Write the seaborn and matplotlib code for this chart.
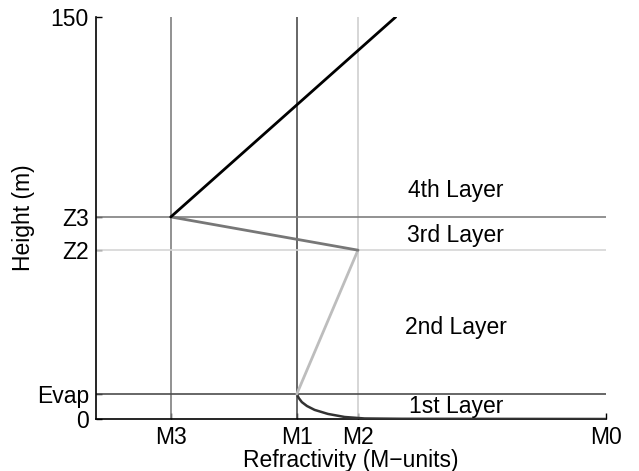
import matplotlib
matplotlib.use("Agg")
import matplotlib.pyplot as plt
import seaborn as sns
import pandas as pd

# Characteristic refractivity values (M-units, arbitrary scale) and layer heights (m)
M3, M1, M2, M0 = 14.7, 39.4, 51.4, 100.0
EVAP, Z2, Z3, ZTOP = 9.3, 63.0, 75.4, 150.0
M_TOP = 58.8

x_tick_labels = ["M3", "M1", "M2", "M0"]
y_tick_labels = ["0", "Evap", "Z2", "Z3", "150"]

# Evaporation-duct part of the profile (surface up to the duct height)
evap_m = [100.0, 60.0, 52.7, 48.8, 45.5, 42.9, 41.4, 40.4, 39.8, 39.4]
evap_z = [0.0, 0.08, 0.2, 0.75, 1.9, 3.4, 4.85, 6.3, 7.8, 9.3]

layer_names = ["1st Layer", "2nd Layer", "3rd Layer", "4th Layer"]
layer_label_z = [4.5, 34.3, 68.3, 85.4]
layer_label_m = 70.6

sns.set_style("ticks")
plt.rcParams["font.family"] = ["Liberation Sans", "DejaVu Sans"]
plt.rcParams.update({
    "text.color": "black",
    "axes.labelcolor": "black",
    "xtick.color": "black",
    "ytick.color": "black",
    "axes.edgecolor": "black",
})
FS = 16.5

fig = plt.figure(figsize=(6.39, 4.71), dpi=100)
ax = fig.add_axes([0.150, 0.1104, 0.798, 0.8535])

# Reference grid of characteristic values
ax.axvline(M3, color="#7f7f7f", lw=1.2, zorder=1)
ax.axvline(M1, color="#4d4d4d", lw=1.2, zorder=1)
ax.axvline(M2, color="#d0d0d0", lw=1.2, zorder=1)
ax.axhline(EVAP, color="#4d4d4d", lw=1.2, zorder=1)
ax.axhline(Z2, color="#d6d6d6", lw=1.2, zorder=1)
ax.axhline(Z3, color="#7f7f7f", lw=1.2, zorder=1)

# Profile segments
evap_df = pd.DataFrame({"M": evap_m, "z": evap_z})
sns.lineplot(data=evap_df, x="M", y="z", sort=False, color="#333333", lw=1.8, ax=ax, zorder=3)

seg2 = pd.DataFrame({"M": [M1, M2], "z": [EVAP, Z2]})
sns.lineplot(data=seg2, x="M", y="z", sort=False, color="#bdbdbd", lw=2.0, ax=ax, zorder=3)

seg3 = pd.DataFrame({"M": [M2, M3], "z": [Z2, Z3]})
sns.lineplot(data=seg3, x="M", y="z", sort=False, color="#777777", lw=2.0, ax=ax, zorder=3)

seg4 = pd.DataFrame({"M": [M3, M_TOP], "z": [Z3, ZTOP]})
sns.lineplot(data=seg4, x="M", y="z", sort=False, color="#000000", lw=2.0, ax=ax, zorder=3)

for name, z in zip(layer_names, layer_label_z):
    ax.text(layer_label_m, z, name, ha="center", va="center", fontsize=FS, color="black")

ax.set_xlim(0, M0)
ax.set_ylim(0, ZTOP)
ax.set_xticks([M3, M1, M2, M0])
ax.set_xticklabels(x_tick_labels, fontsize=FS)
ax.set_yticks([0, EVAP, Z2, Z3, ZTOP])
ax.set_yticklabels(y_tick_labels, fontsize=FS)
ax.tick_params(direction="in", length=4, width=1, pad=5, colors="black")
ax.set_xlabel("Refractivity (M\u2212units)", fontsize=FS, labelpad=0)
ax.set_ylabel("Height (m)", fontsize=FS, labelpad=1)

sns.despine(ax=ax)
for side in ("left", "bottom"):
    ax.spines[side].set_linewidth(1.2)
    ax.spines[side].set_color("#000000")

fig.savefig("out.png", dpi=100, facecolor="white")
